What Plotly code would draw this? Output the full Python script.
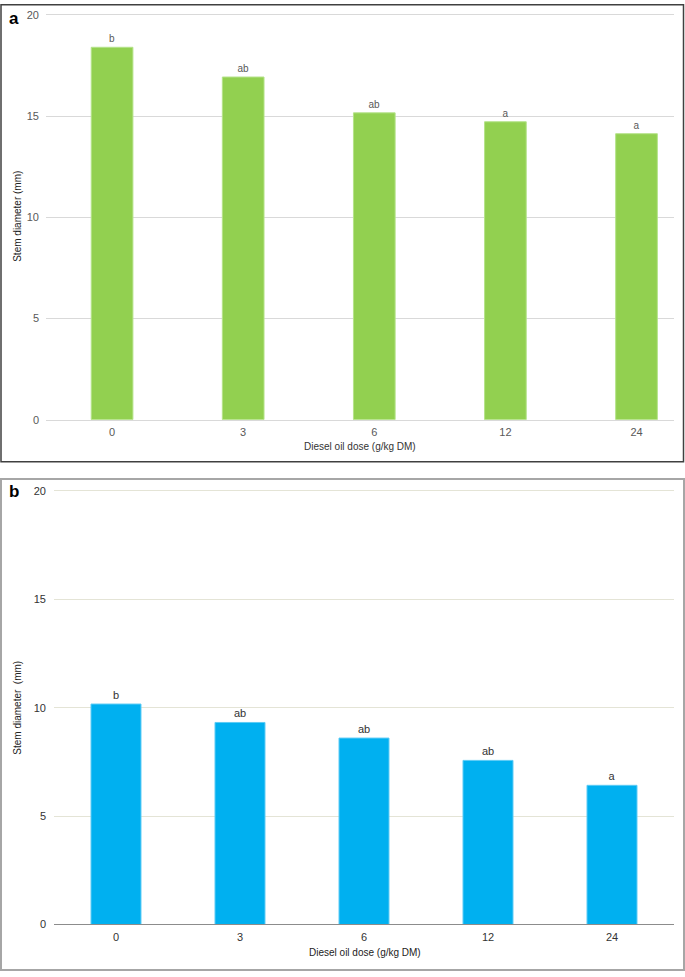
import plotly.graph_objects as go

W, H = 685, 977

doses = ["0", "3", "6", "12", "24"]
stem_a = [18.40, 16.93, 15.16, 14.72, 14.13]
letters_a = ["b", "ab", "ab", "a", "a"]
stem_b = [10.17, 9.32, 8.60, 7.57, 6.42]
letters_b = ["b", "ab", "ab", "ab", "a"]
y_ticks = [0, 5, 10, 15, 20]

FONT = "Liberation Sans, Arial, sans-serif"

def px(x):
    return x / W

def py(y):
    return 1 - y / H

# panel a: 0 at 420 px, 20 at 11 px ; panel b: 0 at 930 px, 20 at 492 px
YMAX = 20.1
a_top = 420 - (420 - 11) * YMAX / 20
b_top = 930 - (930 - 492) * YMAX / 20

fig = go.Figure()

fig.add_trace(go.Bar(
    x=doses, y=stem_a, text=letters_a, textposition="outside",
    textfont=dict(family=FONT, size=10, color="#595959"),
    marker=dict(color="#92D050", line=dict(color="#B5E38A", width=1)),
    width=0.318, cliponaxis=False, xaxis="x", yaxis="y", showlegend=False,
))
fig.add_trace(go.Bar(
    x=doses, y=stem_b, text=letters_b, textposition="outside",
    textfont=dict(family=FONT, size=11, color="#333333"),
    marker=dict(color="#00B0F0", line=dict(color="#5CCBF5", width=1)),
    width=0.403, cliponaxis=False, xaxis="x2", yaxis="y2", showlegend=False,
))

fig.update_layout(
    width=W, height=H,
    margin=dict(l=0, r=0, t=0, b=0),
    paper_bgcolor="white", plot_bgcolor="white",
    font=dict(family=FONT),
    xaxis=dict(
        domain=[px(46), px(674)], anchor="y", type="category",
        range=[-0.504, 4.286], showgrid=False, showline=True,
        linecolor="#d9d9d9", linewidth=1, ticks="",
        tickfont=dict(family=FONT, size=11, color="#595959"),
        ticklabelstandoff=2,
    ),
    yaxis=dict(
        domain=[py(420), py(a_top)], anchor="x", range=[0, YMAX],
        tickvals=y_ticks, showgrid=True, gridcolor="#d9d9d9", gridwidth=1,
        zeroline=False, showline=False, ticks="",
        tickfont=dict(family=FONT, size=11, color="#595959"),
        ticklabelstandoff=6,
    ),
    xaxis2=dict(
        domain=[px(54), px(674)], anchor="y2", type="category",
        range=[-0.5, 4.5], showgrid=False, showline=True,
        linecolor="#8c8c8c", linewidth=1, ticks="",
        tickfont=dict(family=FONT, size=11, color="#333333"),
        ticklabelstandoff=2,
    ),
    yaxis2=dict(
        domain=[py(930), py(b_top)], anchor="x2", range=[0, YMAX],
        tickvals=y_ticks, showgrid=True, gridcolor="#e4e4d6", gridwidth=1,
        zeroline=False, showline=False, ticks="",
        tickfont=dict(family=FONT, size=11, color="#333333"),
        ticklabelstandoff=7,
    ),
    shapes=[
        dict(type="rect", xref="paper", yref="paper",
             x0=px(1), x1=px(683.5), y0=py(462.5), y1=py(0.8),
             line=dict(color="#404040", width=1.5)),
        dict(type="rect", xref="paper", yref="paper",
             x0=px(1), x1=px(684), y0=py(976), y1=py(480),
             line=dict(color="#a6a6a6", width=2)),
    ],
    annotations=[
        dict(text="<b>a</b>", xref="paper", yref="paper", x=px(14), y=py(15),
             showarrow=False, font=dict(family=FONT, size=17, color="black"),
             xanchor="center", yanchor="middle"),
        dict(text="<b>b</b>", xref="paper", yref="paper", x=px(14), y=py(493),
             showarrow=False, font=dict(family=FONT, size=17, color="black"),
             xanchor="center", yanchor="middle"),
        dict(text="Stem diameter (mm)", xref="paper", yref="paper", x=px(18), y=py(215),
             showarrow=False, textangle=-90, font=dict(family=FONT, size=10, color="#222222"),
             xanchor="center", yanchor="middle"),
        dict(text="Stem diameter  (mm)", xref="paper", yref="paper", x=px(18), y=py(711),
             showarrow=False, textangle=-90, font=dict(family=FONT, size=10, color="#222222"),
             xanchor="center", yanchor="middle"),
        dict(text="Diesel oil dose (g/kg DM)", xref="paper", yref="paper", x=px(360), y=py(447),
             showarrow=False, font=dict(family=FONT, size=10, color="#333333"),
             xanchor="center", yanchor="middle"),
        dict(text="Diesel oil dose (g/kg DM)", xref="paper", yref="paper", x=px(365), y=py(958),
             showarrow=False, font=dict(family=FONT, size=10, color="#222222"),
             xanchor="center", yanchor="middle"),
    ],
)

fig.write_html(
    "out.html",
    config={"displayModeBar": False},
    post_script="document.documentElement.style.margin='0';"
                "document.documentElement.style.overflow='hidden';"
                "document.body.style.margin='0';document.body.style.padding='0';"
                "document.body.style.overflow='hidden';",
)
